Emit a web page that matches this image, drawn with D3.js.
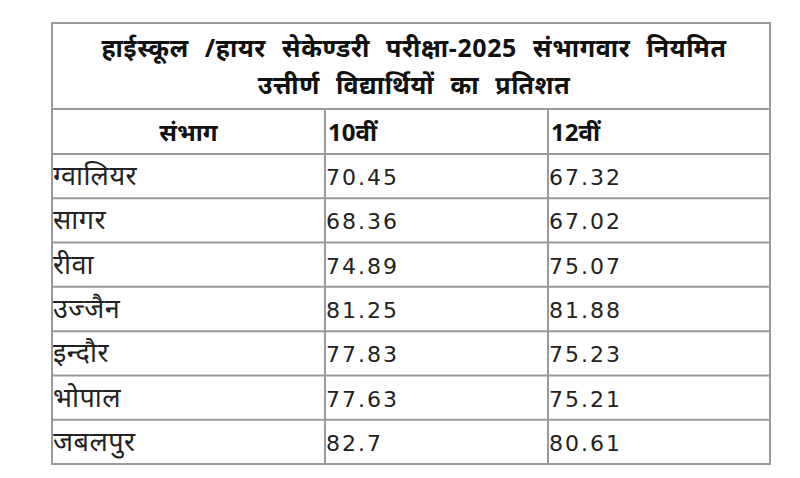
<!DOCTYPE html>
<html><head><meta charset="utf-8">
<script src="https://cdn.jsdelivr.net/npm/d3@7"></script>
<style>body{margin:0;background:#fff}</style></head>
<body><svg id="c" width="800" height="478"></svg>
<script>
const titleLines = ["हाईस्कूल /हायर सेकेण्डरी परीक्षा-2025 संभागवार नियमित", "उत्तीर्ण विद्यार्थियों का प्रतिशत"];
const headers = ["संभाग", "10वीं", "12वीं"];
const divisions = ["ग्वालियर","सागर","रीवा","उज्जैन","इन्दौर","भोपाल","जबलपुर"];
const class10 = ["70.45","68.36","74.89","81.25","77.83","77.63","82.7"];
const class12 = ["67.32","67.02","75.07","81.88","75.23","75.21","80.61"];

const svg = d3.select("#c");
const L=52, R=770, T=23, titleB=109, headB=154, B=464;
const colEdges=[L,325,548,R];
const y = d3.scaleBand().domain(d3.range(divisions.length)).range([headB,B]);
const font = "'Noto Sans','Noto Sans Devanagari','Lohit Devanagari','FreeSans',sans-serif";
const stroke="#9a9a9a";
svg.selectAll("text.t").data(titleLines).join("text").attr("class","t")
  .attr("x",(L+R)/2+3).attr("y",(d,i)=>57+i*37).attr("text-anchor","middle")
  .attr("font-family",font).attr("font-weight","bold").attr("font-size",25)
  .attr("word-spacing",9).attr("letter-spacing",0.6).attr("fill","#111").text(d=>d);
svg.selectAll("text.h").data(headers).join("text").attr("class","h")
  .attr("x",(d,i)=>i===0?(colEdges[0]+colEdges[1])/2:colEdges[i]+3)
  .attr("y",(titleB+headB)/2+9).attr("text-anchor",(d,i)=>i===0?"middle":"start")
  .attr("font-family",font).attr("font-weight","bold").attr("font-size",24).attr("fill","#111").text(d=>d);
const rows = divisions.map((d,i)=>[d,class10[i],class12[i]]);
rows.forEach((r,i)=>{
  svg.selectAll("text.r"+i).data(r).join("text").attr("class","r"+i)
    .attr("x",(d,j)=>colEdges[j]+1).attr("y",y(i)+y.bandwidth()/2+9)
    .attr("font-family",(d,j)=>j===0?font:"'DejaVu Sans',sans-serif")
    .attr("font-size",(d,j)=>j===0?27:22).attr("letter-spacing",(d,j)=>j===0?0.5:2)
    .attr("fill","#222").text(d=>d);
});
const g=svg.append("g").attr("stroke",stroke).attr("stroke-width",2).attr("fill","none");
g.append("rect").attr("x",L).attr("y",T).attr("width",R-L).attr("height",B-T);
[titleB,headB,...d3.range(1,divisions.length).map(i=>y(i))].forEach(v=>
  g.append("line").attr("x1",L).attr("x2",R).attr("y1",v).attr("y2",v));
[colEdges[1],colEdges[2]].forEach(v=>g.append("line").attr("x1",v).attr("x2",v).attr("y1",titleB).attr("y2",B));
</script></body></html>
